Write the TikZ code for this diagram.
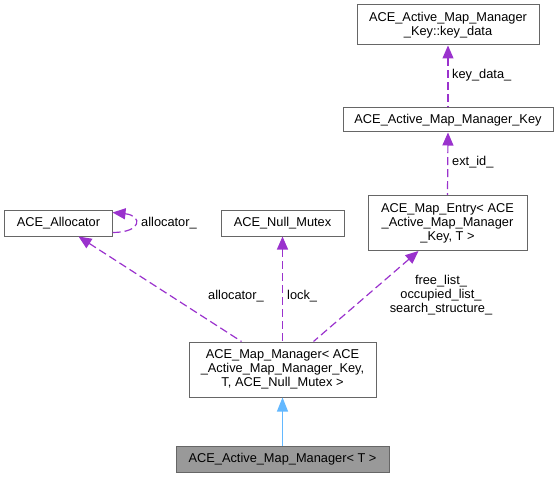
\documentclass[tikz,border=0pt]{standalone}
\usepackage{fontspec}
\setmainfont{Liberation Sans}
\usetikzlibrary{arrows.meta}
\definecolor{edgepurple}{HTML}{9A32CD}
\definecolor{inhblue}{HTML}{63B8FF}
\definecolor{boxgray}{HTML}{666666}
\definecolor{fillgray}{HTML}{999999}
\begin{document}
\begin{tikzpicture}[x=1bp,y=-1bp,
  txt/.style={font=\fontsize{12.8bp}{14bp}\selectfont},
  box/.style={txt, draw=boxgray, line width=1bp, fill=white, align=center, inner sep=0pt},
  dep/.style={draw=edgepurple, line width=1.2bp, dash pattern=on 8bp off 4bp,
    {Triangle[length=13bp,width=11bp,fill=edgepurple]}-},
  inh/.style={draw=inhblue, line width=1.1bp,
    {Triangle[length=14bp,width=11bp,fill=inhblue]}-},
  lbl/.style={txt, inner sep=0pt, text=black}
]
\useasboundingbox (0,0) rectangle (559,477);
\node[box, minimum width=182bp, minimum height=40bp] (keydata) at (448,25)
  {ACE\_Active\_Map\_Manager\\\_Key::key\_data};
\node[box, minimum width=210bp, minimum height=24bp] (key) at (448,120)
  {ACE\_Active\_Map\_Manager\_Key};
\node[box, minimum width=159bp, minimum height=55bp] (entry) at (447.5,223)
  {ACE\_Map\_Entry< ACE\\\_Active\_Map\_Manager\\\_Key, T >};
\node[box, minimum width=107bp, minimum height=25bp] (alloc) at (58.5,223.5)
  {ACE\_Allocator};
\node[box, minimum width=123bp, minimum height=25bp] (mutex) at (282.5,223.5)
  {ACE\_Null\_Mutex};
\node[box, minimum width=187bp, minimum height=55bp] (mm) at (282.5,369.5)
  {ACE\_Map\_Manager< ACE\\\_Active\_Map\_Manager\_Key,\\T, ACE\_Null\_Mutex >};
\node[box, fill=fillgray, minimum width=213bp, minimum height=26bp] (amm) at (282.5,459)
  {ACE\_Active\_Map\_Manager< T >};

\draw[dep] (keydata.south) -- (key.north);
\node[lbl, anchor=west] (l1) at (452,75) {key\_data\_};
\draw[dep] (key.south) -- (entry.north);
\node[lbl, anchor=west] (l2) at (452,162) {ext\_id\_};
\draw[dep] ([yshift=11bp]alloc.east) .. controls +(30,3) and +(30,0) .. ([yshift=-9bp]alloc.east);
\node[lbl, anchor=west] (l3) at (141,223) {allocator\_};
\draw[dep] ([xshift=20bp]alloc.south) -- ([xshift=-41bp]mm.north);
\node[lbl, anchor=west] (l4) at (208,296) {allocator\_};
\draw[dep] (mutex.south) -- (mm.north);
\node[lbl, anchor=west] (l5) at (287,296) {lock\_};
\draw[dep] ([xshift=-29bp]entry.south) -- ([xshift=31bp]mm.north);
\node[lbl, align=center] (l6) at (441,295) {free\_list\_\\occupied\_list\_\\search\_structure\_};
\draw[inh] (mm.south) -- (amm.north);
\end{tikzpicture}
\end{document}
